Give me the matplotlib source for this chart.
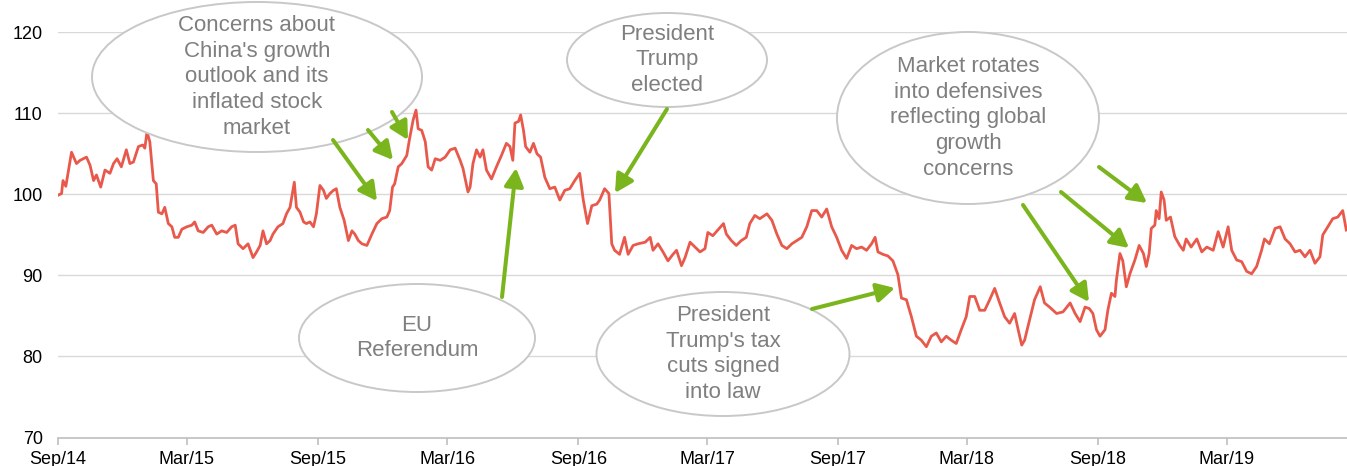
import matplotlib
matplotlib.use("Agg")
import matplotlib.pyplot as plt
import matplotlib.dates as mdates
from matplotlib.patches import Ellipse, FancyArrowPatch
import pandas as pd

plt.rcParams['font.family'] = ['Liberation Sans', 'DejaVu Sans']

# index level (days counted from 1 Sep 2014)
start = pd.Timestamp('2014-09-01')
days = [0, 5, 7, 11, 19, 26, 31, 40, 45, 50,
        54, 60, 66, 73, 78, 83, 89, 96, 101, 106,
        113, 119, 122, 125, 129, 134, 138, 141, 146, 150,
        155, 160, 164, 169, 174, 181, 188, 192, 197, 204,
        211, 216, 223, 230, 237, 244, 249, 253, 260, 267,
        274, 279, 284, 288, 293, 298, 302, 309, 316, 321,
        326, 332, 335, 340, 345, 349, 354, 359, 363, 368,
        373, 377, 382, 387, 391, 396, 402, 408, 413, 417,
        422, 427, 434, 441, 448, 455, 462, 466, 470, 473,
        478, 483, 490, 494, 499, 503, 506, 511, 516, 520,
        525, 530, 537, 544, 551, 558, 565, 569, 576, 579,
        583, 588, 593, 597, 602,
        609, 616, 623, 630, 635, 639, 642, 647, 650, 654,
        657, 663, 668, 673, 678, 684, 691, 698, 705, 712,
        719, 726, 733, 738, 744, 750, 757, 761, 768, 774,
        778, 782, 789, 796, 801, 808, 815, 825, 832, 836,
        843, 850, 857, 864, 869, 876, 881, 888, 895, 902,
        909, 913, 920, 928, 935, 939, 946, 953, 960, 967,
        972, 979, 986, 996, 1003, 1010, 1017, 1024, 1031, 1038,
        1045, 1052, 1059, 1066, 1073, 1080, 1087, 1094, 1101, 1108,
        1115, 1122, 1129, 1136, 1143, 1148, 1152, 1159, 1166, 1173,
        1180,
        1185, 1192, 1199, 1206, 1213, 1220, 1227, 1234, 1241, 1248,
        1255, 1262, 1269, 1276, 1281, 1288, 1295, 1302, 1309, 1316,
        1323, 1330, 1337, 1344, 1349, 1354, 1358, 1365, 1372, 1380,
        1386, 1393, 1403, 1412, 1422, 1429, 1436, 1443, 1449, 1454,
        1459, 1464, 1471, 1475, 1480, 1485, 1487, 1492, 1496, 1501,
        1506, 1513, 1519, 1525, 1529, 1533, 1536, 1541, 1543, 1547,
        1550, 1554, 1557, 1563, 1569, 1576, 1581, 1585, 1592, 1600,
        1607, 1614, 1623, 1630, 1637, 1644, 1649, 1656, 1663, 1670,
        1677, 1684, 1691, 1695, 1702, 1710, 1717, 1724, 1731, 1738,
        1745, 1752, 1759, 1766, 1773, 1777, 1784, 1791, 1798, 1805,
        1810]
values = [99.9, 100.1, 101.7, 101, 105.2, 103.8, 104.2, 104.6, 103.6, 101.7,
          102.4, 100.9, 103, 102.6, 103.8, 104.4, 103.4, 105.5, 103.8, 104,
          105.9, 106.1, 105.7, 107.7, 106.5, 101.7, 101.3, 97.8, 97.6, 98.4,
          96.4, 96, 94.7, 94.7, 95.7, 96, 96.2, 96.6, 95.5, 95.3,
          96, 96.2, 95.1, 95.5, 95.3, 96, 96.2, 93.9, 93.3, 93.9,
          92.2, 92.9, 93.7, 95.5, 93.9, 94.3, 95.1, 96, 96.4, 97.6,
          98.4, 101.5, 98.4, 97.8, 96.6, 96.4, 96.6, 96, 97.6, 101.1,
          100.5, 99.5, 100.1, 100.5, 100.7, 98.4, 96.8, 94.3, 95.5, 95.1,
          94.3, 93.9, 93.7, 95.1, 96.4, 97, 97.2, 98, 100.9, 101.3,
          103.4, 103.8, 104.8, 106.9, 109.2, 110.4, 108.1, 107.9, 106.5, 103.4,
          103, 104.4, 104.2, 104.6, 105.5, 105.7, 104.2, 103.2, 100.3, 100.9,
          103.8, 105.5, 104.6, 105.5, 103,
          101.9, 103.4, 104.8, 106.3, 105.9, 104.2, 108.8, 109, 109.8, 107.9,
          105.9, 105.2, 106.3, 105, 104.6, 102.1, 100.7, 100.9, 99.3, 100.5,
          100.7, 101.7, 102.6, 99.3, 96.4, 98.6, 98.8, 99.3, 100.7, 100.1,
          93.9, 93.1, 92.6, 94.7, 92.6, 93.7, 93.9, 94.1, 94.7, 93.1,
          93.9, 92.9, 91.8, 92.6, 93.1, 91.2, 92.2, 94.1, 93.5, 92.9,
          93.3, 95.3, 94.9, 95.7, 96.4, 95.1, 94.3, 93.7, 94.3, 94.7,
          96.4, 97.4, 97, 97.6, 96.8, 95.1, 93.7, 93.3, 93.9, 94.3,
          94.7, 96, 98, 98, 97.2, 98.2, 96, 94.7, 93.1, 92.1,
          93.7, 93.3, 93.5, 93.1, 93.9, 94.7, 92.9, 92.6, 92.4, 91.8,
          90.1,
          87.2, 87, 84.9, 82.5, 82, 81.2, 82.5, 82.9, 81.8, 82.5,
          82, 81.6, 83.3, 84.9, 87.4, 87.4, 85.7, 85.7, 87, 88.4,
          86.6, 84.9, 84.1, 85.3, 83.3, 81.4, 82, 84.5, 87, 88.6,
          86.6, 86.1, 85.3, 85.5, 86.6, 85.3, 84.3, 86.1, 85.9, 85.3,
          83.3, 82.5, 83.3, 85.7, 87.8, 87.4, 89.4, 92.7, 91.8, 88.6,
          90.2, 91.9, 93.7, 92.7, 91.1, 92.7, 95.8, 96.2, 98, 97,
          100.3, 99.3, 96.8, 97.2, 94.8, 93.7, 93.1, 94.5, 93.5, 94.5,
          92.9, 93.5, 93.1, 95.4, 93.5, 96, 93.1, 91.9, 91.7, 90.5,
          90.2, 91.1, 93.1, 94.5, 93.9, 95.8, 96, 94.5, 93.9, 92.9,
          93.1, 92.3, 93.1, 91.5, 92.3, 95, 96, 97, 97.2, 98,
          95.6]

tick_dates = ['2014-09-01', '2015-03-01', '2015-09-01', '2016-03-01', '2016-09-01',
              '2017-03-01', '2017-09-01', '2018-03-01', '2018-09-01', '2019-03-01']
y_ticks = [70, 80, 90, 100, 110, 120]

# call-out bubbles: text, centre (px from top-left), width, height
bubble_texts = ["Concerns about\nChina's growth\noutlook and its\ninflated stock\nmarket",
                "President\nTrump\nelected",
                "Market rotates\ninto defensives\nreflecting global\ngrowth\nconcerns",
                "EU\nReferendum",
                "President\nTrump's tax\ncuts signed\ninto law"]
bubble_pos = [(257, 77), (667, 60), (968, 118), (417, 338), (723, 354)]
bubble_size = [(330, 150), (200, 94), (262, 172), (236, 108), (253, 124)]

# arrows: tail -> head, px from top-left
arrows = [((333, 140), (377, 201)), ((368, 130), (393, 160)), ((392, 112), (408, 140)),
          ((502, 297), (516, 168)), ((667, 109), (615, 193)), ((812, 309), (895, 288)),
          ((1023, 205), (1089, 302)), ((1061, 192), (1129, 248)), ((1099, 167), (1147, 203))]

W, H = 1347, 466
green = '#7ab51d'
red = '#e8594c'


def px(x, y):
    return (x / W, 1 - y / H)


fig = plt.figure(figsize=(W / 100, H / 100), dpi=100)
ax = fig.add_axes([58 / W, (H - 437.5) / H, (W - 58) / W, (437.5 - 32.3) / H])

dates = start + pd.to_timedelta(days, unit='D')
ax.plot(dates, values, color=red, lw=2.0, solid_joinstyle='round')

ax.set_ylim(70, 120)
ax.set_xlim(start, start + pd.Timedelta(days=1811))
ax.set_yticks(y_ticks)
ax.yaxis.grid(True, color='#d9d9d9', lw=1)
ax.set_axisbelow(True)
for s in ['top', 'right', 'left']:
    ax.spines[s].set_visible(False)
ax.spines['bottom'].set_color('#bfbfbf')
ax.spines['bottom'].set_linewidth(1.2)
ax.set_xticks(pd.to_datetime(tick_dates))
ax.xaxis.set_major_formatter(mdates.DateFormatter('%b/%y'))
ax.tick_params(axis='y', length=0, pad=11, labelsize=13)
ax.tick_params(axis='x', length=5, color='#bfbfbf', width=1.2, pad=5, labelsize=13)

for txt, (cx, cy), (w, h) in zip(bubble_texts, bubble_pos, bubble_size):
    e = Ellipse(px(cx, cy), w / W, h / H, transform=fig.transFigure,
                facecolor='white', edgecolor='#c8c8c8', lw=1.4, zorder=5)
    fig.add_artist(e)
    fig.text(cx / W, 1 - cy / H, txt, ha='center', va='center', fontsize=16,
             color='#7f7f7f', linespacing=1.3, zorder=6)

for tail, head in arrows:
    a = FancyArrowPatch(px(*tail), px(*head), transform=fig.transFigure,
                        arrowstyle='-|>,head_length=0.6,head_width=0.32',
                        mutation_scale=18, color=green, lw=2.9,
                        shrinkA=0, shrinkB=0, zorder=7)
    fig.add_artist(a)

fig.savefig('out.png', dpi=100)
